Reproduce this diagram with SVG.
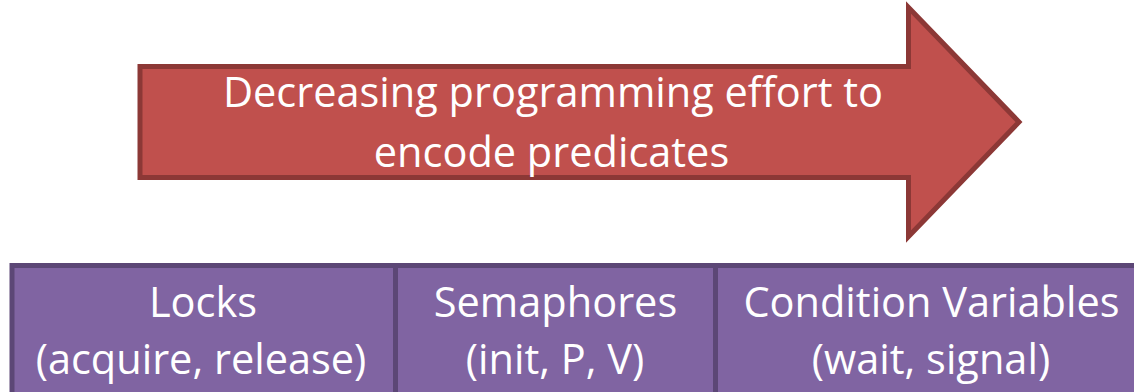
<svg xmlns="http://www.w3.org/2000/svg" width="1134" height="392" viewBox="0 0 1134 392">
  <style>
    .arrow { fill: #C0504D; stroke: #8C3836; stroke-width: 5; stroke-linejoin: miter; }
    .box { fill: #8064A2; stroke: #5C4776; stroke-width: 5; }
    .label { fill: #FFFFFF; font-family: "Open Sans", Lato, "Liberation Sans", sans-serif; font-size: 41.5px; text-anchor: middle; }
  </style>
  <rect width="1134" height="392" fill="#FFFFFF"/>

  <g id="effort-arrow">
    <polygon class="arrow" points="140,66.5 908.5,66.5 908.5,7.5 1019,122 908.5,236.5 908.5,177.5 140,177.5"/>
    <text class="label" x="553" y="107">Decreasing programming effort to</text>
    <text class="label" x="551.5" y="167">encode predicates</text>
  </g>

  <g id="locks">
    <rect class="box" x="12" y="265.5" width="383.5" height="140"/>
    <text class="label" x="203" y="317">Locks</text>
    <text class="label" x="201" y="374">(acquire, release)</text>
  </g>

  <g id="semaphores">
    <rect class="box" x="395.5" y="265.5" width="320" height="140"/>
    <text class="label" x="555.5" y="317">Semaphores</text>
    <text class="label" x="555" y="374">(init, P, V)</text>
  </g>

  <g id="condition-variables">
    <rect class="box" x="715.5" y="265.5" width="430" height="140"/>
    <text class="label" x="931.5" y="317">Condition Variables</text>
    <text class="label" x="931" y="374">(wait, signal)</text>
  </g>
</svg>
